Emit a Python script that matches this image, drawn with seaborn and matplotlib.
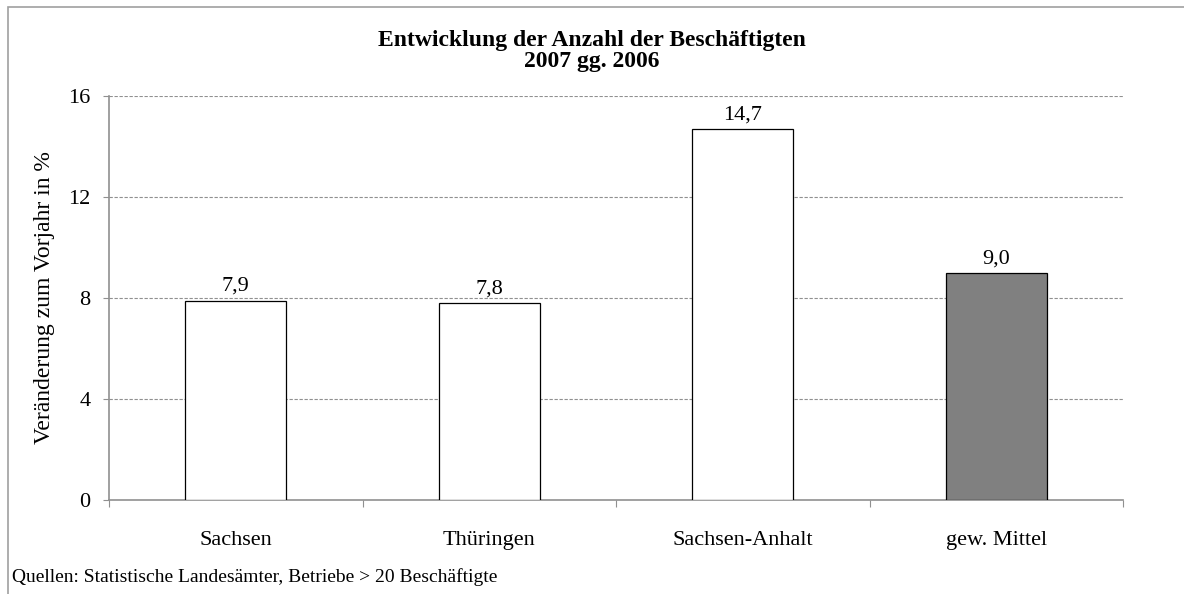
import matplotlib
matplotlib.use('Agg')
import matplotlib.pyplot as plt
import seaborn as sns
import pandas as pd
from matplotlib.patches import Rectangle

regions = ['Sachsen', 'Thüringen', 'Sachsen-Anhalt', 'gew. Mittel']
change = [7.9, 7.8, 14.7, 9.0]
bar_colors = ['#ffffff', '#ffffff', '#ffffff', '#808080']
yticks = [0, 4, 8, 12, 16]

df = pd.DataFrame({'region': regions, 'change': change})

sns.set_style('white')
plt.rcParams['font.family'] = ['Liberation Serif', 'DejaVu Serif']
plt.rcParams['text.color'] = 'black'
plt.rcParams['axes.labelcolor'] = 'black'

fig = plt.figure(figsize=(11.84, 5.94), dpi=100)
ax = fig.add_axes([109 / 1184, 1 - 500 / 594, (1123 - 109) / 1184, (500 - 96) / 594])

sns.barplot(data=df, x='region', y='change', hue='region', palette=bar_colors,
            legend=False, width=0.4, edgecolor='black', linewidth=0.9, ax=ax, zorder=3)

# data labels
for i, v in enumerate(change):
    ax.text(i, v + 0.38, f'{v:.1f}'.replace('.', ','), ha='center', va='baseline', fontsize=16)

ax.set_ylim(0, 16)
ax.set_xlim(-0.5, len(regions) - 0.5)
ax.set_yticks(yticks)
ax.set_yticklabels([str(t) for t in yticks], fontsize=16)
for t in yticks[1:]:
    ax.axhline(t, color='#909090', linestyle=(0, (3, 1.5)), linewidth=0.8, zorder=1)

# category boundary ticks like Excel
ax.set_xticks([i - 0.5 for i in range(len(regions) + 1)])
ax.set_xticklabels([])
ax.set_xticks(range(len(regions)), minor=True)
ax.set_xticklabels(regions, minor=True, fontsize=16)
ax.tick_params(axis='x', which='major', length=5, direction='out', color='#909090', bottom=True)
ax.tick_params(axis='x', which='minor', length=0, pad=22, labelcolor='black')
ax.tick_params(axis='y', length=4.5, direction='out', color='#909090', left=True, pad=9,
               labelcolor='black')

for side in ['top', 'right']:
    ax.spines[side].set_visible(False)
for side in ['left', 'bottom']:
    ax.spines[side].set_color('#909090')
    ax.spines[side].set_linewidth(1.2)

ax.set_xlabel('')
ax.set_ylabel('Veränderung zum Vorjahr in %', fontsize=17)
ax.yaxis.set_label_coords(-0.053, 0.5)

fig.text(0.5, 1 - 51 / 594, 'Entwicklung der Anzahl der Beschäftigten\n2007 gg. 2006',
         ha='center', va='center', fontsize=17, fontweight='bold', linespacing=1.0)
fig.text(12 / 1184, 1 - 577 / 594, 'Quellen: Statistische Landesämter, Betriebe > 20 Beschäftigte',
         ha='left', va='center', fontsize=14)

fig.patches.append(Rectangle((8 / 1184, -0.05), 1.1, 1 - 7 / 594 + 0.05, transform=fig.transFigure,
                             fill=False, edgecolor='#a0a0a0', linewidth=1.2))

fig.savefig('out.png', dpi=100)
